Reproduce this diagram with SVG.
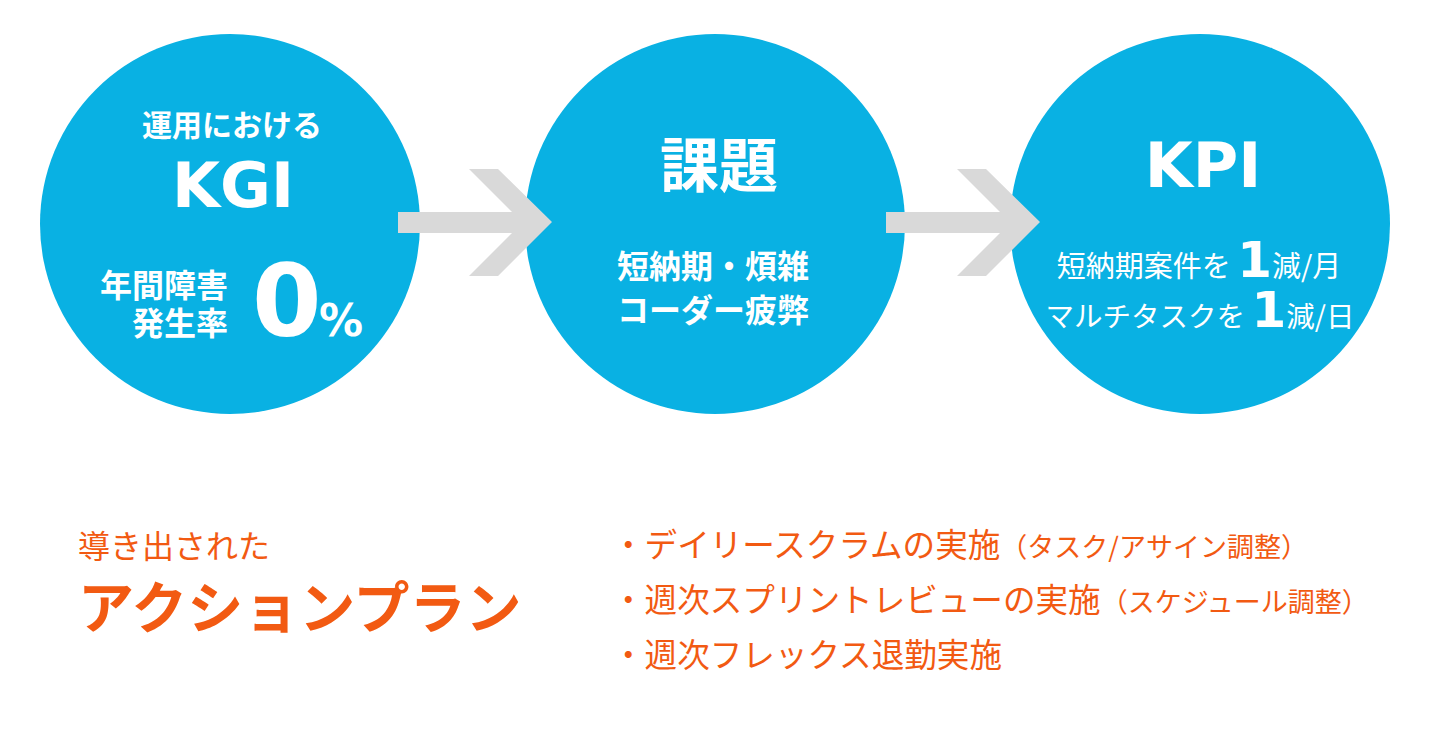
<svg xmlns="http://www.w3.org/2000/svg" width="1440" height="730" viewBox="0 0 1440 730">
<defs>
<style>
.c{fill:#09B1E3}
.ar{fill:#D9D9D9}
.w{fill:#FFFFFF}
.jp{font-family:"Noto Sans CJK JP","Noto Sans",sans-serif}
.lat{font-family:"DejaVu Sans","Noto Sans CJK JP",sans-serif;font-weight:bold}
.b{font-weight:bold}
.o{fill:#F25A12}
</style>
<polygon id="arrowShape" points="398,212 512,212 469,169 498,169 552,222 498,276 469,276 512,233 398,233"/>
</defs>
<rect width="1440" height="730" fill="#FFFFFF"/>
<g id="node-kgi">
<circle class="c" cx="230" cy="224" r="190"/>
<text class="jp b w" x="232" y="136" font-size="30" text-anchor="middle">運用における</text>
<text class="lat w" x="233" y="207" font-size="62" text-anchor="middle">KGI</text>
<text class="jp b w" x="228" y="297" font-size="32" text-anchor="end">年間障害</text>
<text class="jp b w" x="228" y="335" font-size="32" text-anchor="end">発生率</text>
<text class="lat w" x="252" y="336" font-size="100">0</text>
<text class="lat w" x="319" y="336" font-size="44">%</text>
</g>
<g id="node-issue">
<circle class="c" cx="715" cy="224" r="190"/>
<text class="jp b w" x="719" y="187" font-size="59" text-anchor="middle">課題</text>
<text class="jp b w" x="713" y="278" font-size="32" text-anchor="middle">短納期・煩雑</text>
<text class="jp b w" x="713" y="322" font-size="32" text-anchor="middle">コーダー疲弊</text>
</g>
<g id="node-kpi">
<circle class="c" cx="1200" cy="224" r="190"/>
<text class="jp w" x="1199" y="277" font-size="29" text-anchor="middle">短納期案件を <tspan class="lat" font-size="50">1</tspan>減/月</text>
<text class="jp w" x="1200" y="327" font-size="28.5" text-anchor="middle">マルチタスクを <tspan class="lat" font-size="50">1</tspan>減/日</text>
<text class="lat w" x="1203" y="187" font-size="62" text-anchor="middle">KPI</text>
</g>
<g id="connectors">
<use href="#arrowShape" class="ar"/>
<use href="#arrowShape" class="ar" transform="translate(488,0)"/>
</g>
<g id="node-action-title">
<text class="jp o" x="78" y="558" font-size="32">導き出された</text>
<text class="jp b o" x="78" y="628" font-size="56">アクションプラン</text>
</g>
<g id="node-action-list">
<text class="jp o" x="612" y="557" font-size="32.6">・デイリースクラムの実施<tspan font-size="27">（タスク/アサイン調整）</tspan></text>
<text class="jp o" x="612" y="612" font-size="32.6">・週次スプリントレビューの実施<tspan font-size="27">（スケジュール調整）</tspan></text>
<text class="jp o" x="612" y="667" font-size="32.6">・週次フレックス退勤実施</text>
</g>
</svg>
